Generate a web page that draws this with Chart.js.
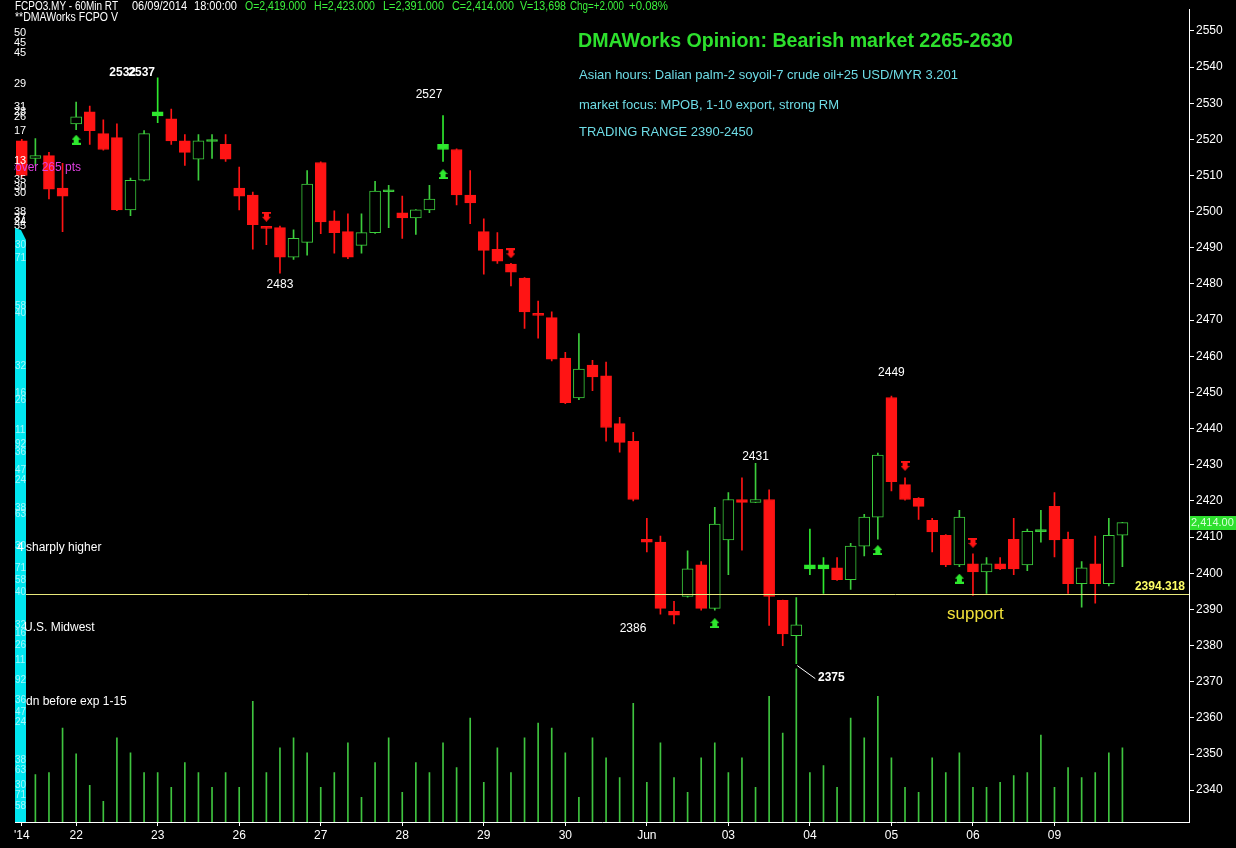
<!DOCTYPE html>
<html><head><meta charset="utf-8">
<script src="https://cdn.jsdelivr.net/npm/chart.js@4/dist/chart.umd.min.js"></script>
<style>html,body{margin:0;padding:0;background:#000;overflow:hidden}canvas{display:block}</style>
</head><body>
<canvas id="c" width="1236" height="848"></canvas>
<script>
// ---------- DATA ----------
const dayLabels   = ["'14","22","23","26","27","28","29","30","Jun","03","04","05","06","09"];
const dayStartIdx = [0,4,10,16,22,28,34,40,46,52,58,64,70,76];
const yTickValues = [2340,2350,2360,2370,2380,2390,2400,2410,2420,2430,2440,2450,2460,2470,2480,2490,2500,2510,2520,2530,2540,2550];

const opens  = [2519.6,2514.7,2515.5,2506.5,2524.3,2527.6,2521.6,2520.5,2500.5,2508.7,
                2526.5,2525.7,2519.6,2514.5,2519.4,2518.6,2506.5,2504.6,2495.7,2495.6,
                2487.4,2491.5,2513.6,2497.5,2494.5,2490.7,2494.2,2505.5,2499.7,2498.3,
                2500.5,2517.2,2517.2,2504.6,2494.5,2489.6,2485.5,2481.6,2471.6,2470.7,
                2459.5,2448.5,2457.6,2454.6,2441.4,2436.5,2409.4,2408.6,2389.5,2393.6,
                2402.3,2390.3,2409.2,2420.4,2419.6,2420.4,2392.5,2382.7,2401.2,2401.2,
                2401.5,2398.2,2407.5,2415.5,2448.6,2424.5,2420.7,2414.6,2410.5,2402.3,
                2402.6,2400.4,2402.6,2409.4,2402.3,2411.5,2418.5,2409.4,2397.1,2402.6,
                2397.1,2410.5];
const highs  = [2520.0,2520.2,2516.4,2513.4,2530.3,2529.2,2525.4,2524.3,2509.3,2522.4,
                2537.0,2528.4,2521.3,2521.3,2521.3,2521.3,2512.3,2505.4,2495.8,2496.0,
                2495.0,2511.4,2513.8,2500.2,2499.4,2499.4,2508.4,2507.3,2504.3,2500.6,
                2507.3,2526.6,2517.4,2511.4,2498.0,2494.2,2485.7,2481.8,2475.3,2472.3,
                2461.1,2466.3,2458.9,2458.4,2443.1,2439.0,2415.2,2410.3,2392.2,2406.2,
                2403.2,2418.2,2422.3,2426.4,2430.4,2423.1,2392.6,2393.3,2412.2,2404.3,
                2404.3,2408.3,2416.3,2433.2,2449.0,2426.4,2420.9,2415.2,2410.7,2417.4,
                2405.4,2404.3,2404.3,2415.2,2412.2,2417.4,2422.3,2411.4,2403.2,2410.3,
                2415.2,2414.1];
const lows   = [2509.5,2512.8,2503.5,2494.5,2522.7,2518.6,2517.0,2500.3,2498.9,2508.5,
                2524.6,2518.6,2512.8,2508.7,2514.7,2513.9,2500.5,2489.6,2490.9,2483.0,
                2486.8,2488.0,2493.9,2488.5,2487.0,2488.5,2494.0,2495.6,2492.6,2493.7,
                2499.7,2513.9,2501.9,2496.7,2482.7,2485.7,2479.5,2467.7,2465.0,2458.7,
                2446.9,2448.0,2450.5,2436.5,2433.5,2420.0,2405.9,2388.7,2386.0,2393.4,
                2389.8,2389.8,2399.6,2406.4,2419.5,2385.6,2380.0,2375.0,2399.6,2394.4,
                2398.0,2395.5,2404.8,2409.4,2422.8,2420.2,2414.9,2405.9,2401.8,2401.8,
                2393.9,2394.4,2401.0,2399.6,2400.7,2408.6,2404.5,2394.4,2390.6,2391.7,
                2396.5,2401.8];
const closes = [2510.0,2515.5,2506.2,2504.3,2526.2,2522.4,2517.2,2500.5,2508.7,2521.6,
                2527.6,2519.6,2516.4,2519.6,2519.7,2514.5,2504.3,2496.4,2495.4,2487.4,
                2492.6,2507.6,2497.2,2494.2,2487.4,2494.2,2505.7,2505.8,2498.3,2500.5,
                2503.5,2518.6,2504.6,2502.4,2489.3,2486.3,2483.3,2472.3,2471.3,2459.2,
                2447.2,2456.5,2454.3,2440.3,2436.2,2420.4,2408.6,2390.3,2388.4,2401.2,
                2390.3,2413.6,2420.4,2419.6,2420.4,2393.6,2383.2,2385.7,2402.3,2402.3,
                2398.2,2407.5,2415.5,2432.7,2425.3,2420.4,2418.5,2411.4,2402.3,2415.5,
                2400.4,2402.6,2401.2,2401.2,2411.6,2411.8,2409.2,2397.1,2401.5,2397.1,
                2410.5,2414.0];
const volumes = [1000,960,1000,1900,1380,740,420,1700,1400,1000,
                 1000,700,1200,1000,700,1000,700,2440,1000,1500,
                 1700,1400,700,1000,1600,500,1200,1700,600,1200,
                 1000,1600,1100,2100,800,1500,1000,1700,2000,1900,
                 1400,500,1700,1300,900,2400,800,1600,900,600,
                 1300,1600,1000,1300,700,2540,1800,3100,1000,1140,
                 700,2100,1700,2540,1300,700,600,1300,1000,1400,
                 700,700,800,940,1000,1760,700,1100,900,1000,
                 1400,1500];
const signalBars   = [10,31,58,59];            // solid green signal candles
const upArrowIdx   = [4,31,51,63,69];
const upArrowVal   = [2519.9,2510.4,2386.2,2406.4,2398.5];
const downArrowIdx = [18,36,65,70];
const downArrowVal = [2498.6,2488.5,2429.7,2408.4];
const extremeLabels = ['2532','2537','2527','2483','2431','2449','2386','2375'];
const extremeIdx    = [10,10,31,19,54,64,48,57];
const extremeVal    = [2537,2537,2527,2483,2431,2449,2386,2375];
const supportLevel = 2394.318;
const lastPrice = 2414.00;

// ---------- STYLE ----------
const FONT = "'Liberation Sans', Arial, sans-serif";
const RED = '#ff1414', GREEN = '#3ccc3c', SIGNAL = '#2ee82e';
const labelStyle = [ // dx, dy, bold
  [-35,-5,true],[-16,-5,true],[-14,-19,false],[0,12,false],[0,-4,false],[0,-23,false],[-41,5,false],[35,14,true]
];
const idx = opens.map((_, i) => i);
const isUp = i => closes[i] >= opens[i];

function arrowCanvas(color, up){
  const c = document.createElement('canvas'); c.width = 9; c.height = 10;
  const g = c.getContext('2d'); g.fillStyle = color; g.beginPath();
  if (up){ g.moveTo(4.5,0); g.lineTo(9,5); g.lineTo(0,5); g.closePath(); g.fill(); g.fillRect(2,5,5,3); g.fillRect(0,8,9,2); }
  else { g.moveTo(4.5,10); g.lineTo(9,5); g.lineTo(0,5); g.closePath(); g.fill(); g.fillRect(2,2,5,3); g.fillRect(0,0,9,2); }
  return c;
}

const overlay = {
  id: 'overlay',
  beforeDraw(chart){
    const g = chart.ctx; g.save(); g.fillStyle = '#000'; g.fillRect(0,0,chart.width,chart.height); g.restore();
  },
  afterDatasetsDraw(chart){
    const g = chart.ctx, a = chart.chartArea, xs = chart.scales.x, ys = chart.scales.y;
    g.save();
    // support line
    const sy = Math.round(ys.getPixelForValue(supportLevel)) + 0.5;
    g.strokeStyle = '#e8e87a'; g.lineWidth = 1;
    g.beginPath(); g.moveTo(a.left, sy); g.lineTo(a.right, sy); g.stroke();
    g.textBaseline = 'middle';
    g.font = "bold 12px " + FONT; g.fillStyle = '#ffff66'; g.textAlign = 'right';
    g.fillText(supportLevel.toFixed(3), a.right - 4, sy - 8);
    g.textAlign = 'left';
    g.font = "17px " + FONT; g.fillStyle = '#f2e23a';
    g.fillText('support', 947, 614);

    // extreme labels
    g.fillStyle = '#ffffff'; g.textAlign = 'center';
    extremeLabels.forEach((t, k) => {
      const [dx, dy, b] = labelStyle[k];
      const px = xs.getPixelForValue(extremeIdx[k]), py = ys.getPixelForValue(extremeVal[k]);
      g.font = (b ? 'bold ' : '') + "12px " + FONT;
      g.fillText(t, px + dx, py + dy);
      if (k === 7){
        g.strokeStyle = '#ffffff'; g.beginPath(); g.moveTo(px + 1, py + 2); g.lineTo(px + 19, py + 15); g.stroke();
      }
    });

    // header
    g.textAlign = 'left';
    g.font = "12px " + FONT; g.fillStyle = '#ffffff';
    [['FCPO3.MY - 60Min RT',15,103],['06/09/2014',132,55],['18:00:00',194,43]].forEach(([t,x,w]) => g.fillText(t, x, 7, w));
    g.fillText('**DMAWorks FCPO V', 15, 18, 103);
    g.fillStyle = '#3cf03c';
    [['O=2,419.000',245,61],['H=2,423.000',314,61],['L=2,391.000',383,61],['C=2,414.000',452,62],['V=13,698',520,46],['Chg=+2.000',570,54],['+0.08%',629,39]]
      .forEach(([t,x,w]) => g.fillText(t, x, 7, w));

    // title block
    g.font = "bold 20px " + FONT; g.fillStyle = '#2de02d';
    g.fillText('DMAWorks Opinion: Bearish market 2265-2630', 578, 41, 435);
    g.font = "13px " + FONT; g.fillStyle = '#6edce6';
    g.fillText('Asian hours: Dalian palm-2 soyoil-7 crude oil+25 USD/MYR 3.201', 579, 75, 383);
    g.fillText('market focus: MPOB, 1-10 export, strong RM', 579, 105, 260);
    g.fillText('TRADING RANGE 2390-2450', 579, 132, 174);

    // left clutter numbers
    g.font = "11px " + FONT; g.fillStyle = '#ffffff';
    [[33,'50'],[43,'45'],[53,'45'],[84,'29'],[107,'31'],[112,'28'],[117,'26'],[131,'17'],[161,'13'],[180,'35'],[187,'30'],[193,'30'],[212,'38'],[218,'37'],[222,'24'],[226,'35']]
      .forEach(([y,t]) => g.fillText(t, 14, y));

    // cyan strip
    g.fillStyle = '#00e6f0';
    g.beginPath(); g.moveTo(15, 228); g.lineTo(21, 230); g.lineTo(26, 240); g.lineTo(26, 822); g.lineTo(15, 822); g.closePath(); g.fill();
    g.fillStyle = '#9ff6fb'; g.font = "10px " + FONT;
    [245,258,306,313,366,393,400,430,444,452,470,480,508,514,546,568,580,592,625,633,645,660,680,700,712,722,760,770,785,795,806]
      .forEach((y,k) => g.fillText(['30','71','58','40','32','16','26','11','92','36','47','24','38','63'][k%14], 15, y));

    // side notes
    g.save(); g.beginPath(); g.rect(14, 150, 200, 30); g.clip();
    g.font = "12px " + FONT; g.fillStyle = '#e040e0';
    g.fillText('cover 265 pts', 9, 168); g.restore();
    g.font = "12px " + FONT; g.fillStyle = '#ffffff';
    g.fillText('4', 17, 548); g.fillText('sharply higher', 26, 548);
    g.fillText('U.S. Midwest', 24, 628);
    g.fillText('dn before exp 1-15', 26, 702);

    // current price tag
    const ly = ys.getPixelForValue(lastPrice);
    g.fillStyle = '#2ee02e'; g.fillRect(a.right + 1, Math.round(ly) - 7, 47, 14);
    g.fillStyle = '#d8ffd8'; g.font = "11px " + FONT;
    g.fillText('2,414.00', a.right + 2, ly, 44);
    g.restore();
  }
};

const ctx = document.getElementById('c').getContext('2d');
new Chart(ctx, {
  type: 'bar',
  data: {
    datasets: [
      { type:'line', label:'up', data: upArrowIdx.map((x,k)=>({x, y: upArrowVal[k]})), showLine:false,
        pointStyle: arrowCanvas(SIGNAL, true), yAxisID:'y', order:0 },
      { type:'line', label:'down', data: downArrowIdx.map((x,k)=>({x, y: downArrowVal[k]})), showLine:false,
        pointStyle: arrowCanvas(RED, false), yAxisID:'y', order:0 },
      { label:'body', data: idx.map(i => ({x:i, y:[opens[i], closes[i]]})), yAxisID:'y', grouped:false, order:1,
        barThickness: 11, borderWidth: 1, borderSkipped: false, minBarLength: 2,
        backgroundColor: c => { const i = c.dataIndex; if (!isUp(i)) return RED; if (signalBars.includes(i)) return SIGNAL; return Math.abs(closes[i]-opens[i]) < 0.6 ? GREEN : '#000'; },
        borderColor: c => { const i = c.dataIndex; return !isUp(i) ? RED : (signalBars.includes(i) ? SIGNAL : GREEN); } },
      { label:'wick', data: idx.map(i => ({x:i, y:[lows[i], highs[i]]})), yAxisID:'y', grouped:false, order:2,
        barThickness: 1, borderWidth: 0,
        backgroundColor: c => isUp(c.dataIndex) ? (signalBars.includes(c.dataIndex) ? SIGNAL : GREEN) : RED },
      { label:'volume', data: idx.map(i => ({x:i, y: volumes[i]})), yAxisID:'yv', grouped:false, order:3,
        barThickness: 1, borderWidth: 0, backgroundColor: '#3fc43f' }
    ]
  },
  options: {
    responsive:false, animation:false, devicePixelRatio:1,
    layout:{ padding:{ left:15, top:0, right:0, bottom:0 } },
    plugins:{ legend:{display:false}, tooltip:{enabled:false} },
    scales:{
      x:{ type:'linear', min:-0.5, max:85.9, offset:false, position:'bottom',
          grid:{ offset:false, drawOnChartArea:false, drawTicks:true, tickLength:4, color:'#ffffff' },
          border:{ display:true, color:'#ffffff', width:1 },
          afterBuildTicks: s => { s.ticks = dayStartIdx.map(v => ({value:v})); },
          ticks:{ color:'#ffffff', font:{ size:12, family:FONT }, padding:2, maxRotation:0, autoSkip:false,
                  callback: v => { const k = dayStartIdx.indexOf(v); return k >= 0 ? dayLabels[k] : ''; } },
          afterFit: s => { s.height = 26; } },
      y:{ type:'linear', position:'right', min:2331.2, max:2556,
          afterBuildTicks: s => { s.ticks = yTickValues.map(v => ({value:v})); },
          grid:{ drawOnChartArea:false, drawTicks:true, tickLength:5, color:'#ffffff' },
          border:{ display:true, color:'#ffffff', width:1 },
          ticks:{ color:'#ffffff', font:{ size:12, family:FONT }, padding:2, callback: v => String(v) },
          afterFit: s => { s.width = 47; } },
      yv:{ type:'linear', display:false, min:0, max:16440 }
    }
  },
  plugins:[overlay]
});
</script>
</body></html>
